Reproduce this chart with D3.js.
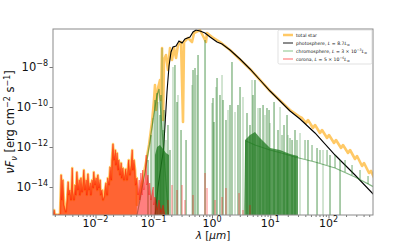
<!DOCTYPE html>
<html>
<head>
<meta charset="utf-8">
<script src="https://cdn.jsdelivr.net/npm/d3@7"></script>
<style>
  body { margin: 0; background: #fff; }
  svg { display: block; font-family: "DejaVu Sans", sans-serif; }
</style>
</head>
<body>
<svg id="chart" width="415" height="242"></svg>
<script>
// All values are [log10(lambda / um), log10(nuF_nu / erg cm^-2 s^-1)]

// corona (dense X-ray / EUV forest, the part below 0.05 um is also the total star)
var coronaPts = [
  [-2.73,-15.35],[-2.71,-15.15],[-2.70,-15.35],[-2.66,-15.40],[-2.61,-15.35],[-2.59,-13.40],[-2.58,-14.65],
  [-2.56,-13.65],[-2.54,-14.90],[-2.51,-15.25],[-2.49,-14.65],[-2.47,-13.75],[-2.46,-14.40],[-2.44,-14.15],
  [-2.42,-14.65],[-2.40,-13.05],[-2.39,-14.15],[-2.37,-14.65],[-2.35,-13.90],[-2.34,-14.40],[-2.32,-13.25],
  [-2.30,-14.15],[-2.28,-13.65],[-2.27,-14.40],[-2.25,-13.55],[-2.23,-14.25],[-2.22,-13.90],[-2.20,-13.15],
  [-2.18,-14.15],[-2.16,-13.65],[-2.15,-14.40],[-2.13,-13.35],[-2.11,-14.15],[-2.09,-13.80],[-2.08,-14.40],
  [-2.06,-13.65],[-2.04,-14.05],[-2.03,-13.25],[-2.01,-13.90],[-1.99,-13.55],[-1.97,-14.15],[-1.96,-13.40],
  [-1.94,-14.05],[-1.92,-13.65],[-1.91,-14.40],[-1.89,-14.15],[-1.87,-14.65],[-1.85,-14.45],[-1.84,-14.15],
  [-1.82,-13.80],[-1.80,-14.40],[-1.79,-13.55],[-1.77,-13.90],[-1.75,-13.00],[-1.73,-13.65],[-1.72,-12.65],
  [-1.70,-11.85],[-1.68,-12.65],[-1.66,-12.15],[-1.65,-12.90],[-1.63,-12.30],[-1.61,-13.15],[-1.60,-12.65],
  [-1.58,-13.40],[-1.56,-12.80],[-1.55,-13.55],[-1.53,-13.05],[-1.51,-13.65],[-1.49,-13.25],[-1.48,-13.10],
  [-1.46,-13.65],[-1.44,-12.90],[-1.43,-12.65],[-1.41,-13.40],[-1.39,-12.90],[-1.37,-12.15],[-1.36,-13.15],
  [-1.34,-12.65],[-1.32,-13.15],[-1.31,-13.90],[-1.29,-13.55],[-1.27,-14.40],[-1.25,-13.65],[-1.24,-14.65],
  [-1.22,-13.30],[-1.20,-14.40],[-1.19,-13.15],[-1.17,-14.15],[-1.15,-13.55],[-1.13,-12.40],[-1.12,-13.90],
  [-1.10,-13.40],[-1.08,-14.40],[-1.07,-13.80],[-1.05,-14.65],[-1.01,-14.00],[-1.00,-14.90],[-0.98,-14.50],
  [-0.94,-15.15],[-0.91,-14.65],[-0.88,-15.25],[-0.84,-14.90],[-0.81,-15.40]
];
// isolated coronal lines further to the red
var coronaLines = [
  [-0.756,-14.65],[-0.687,-13.90],[-0.601,-14.15],[-0.515,-13.90],[-0.464,-14.65],[-0.326,-14.40],
  [-0.120,-13.30],[-0.086,-14.05],[0.052,-14.65],[0.172,-14.50],[0.240,-14.05],[0.464,-14.30],
  [0.532,-15.15],[0.652,-14.90]
];

// photosphere, L = 8.7 Lsun
var photoPts = [
  [-0.979,-15.50],[-0.927,-14.00],[-0.867,-12.80],[-0.833,-12.15],[-0.807,-10.90],[-0.773,-9.25],
  [-0.738,-7.95],[-0.704,-7.25],[-0.670,-7.00],[-0.618,-6.95],[-0.567,-6.70],[-0.515,-6.80],
  [-0.464,-6.60],[-0.378,-6.50],[-0.326,-6.25],[-0.275,-6.15],[-0.206,-6.20],[-0.120,-6.30],
  [-0.034,-6.50],[0.086,-6.75],[0.172,-6.85],[0.309,-7.15],[0.481,-7.60],[0.652,-8.10],
  [0.824,-8.65],[0.996,-9.20],[1.168,-9.70],[1.339,-10.20],[1.511,-10.60],[1.768,-11.30],
  [2.112,-12.40],[2.455,-13.40],[2.782,-14.40]
];

// total star, from the UV rise onwards (below that it follows the corona)
var totalPts = [
  [-1.288,-14.90],[-1.236,-14.25],[-1.185,-13.55],[-1.133,-12.75],[-1.082,-11.90],[-1.030,-10.75],
  [-0.996,-9.65],[-0.979,-8.90],[-0.961,-10.15],[-0.927,-9.05],[-0.893,-8.65],[-0.876,-9.65],
  [-0.858,-7.05],[-0.841,-10.65],[-0.824,-7.65],[-0.790,-7.40],[-0.756,-8.15],[-0.721,-7.05],
  [-0.687,-7.65],[-0.652,-7.05],[-0.618,-7.55],[-0.584,-6.90],[-0.532,-6.75],[-0.498,-10.75],
  [-0.481,-6.75],[-0.412,-6.55],[-0.343,-6.75],[-0.309,-6.30],[-0.206,-6.15],[-0.103,-6.75],
  [-0.086,-6.30],[0.000,-6.50],[0.137,-6.75],[0.309,-7.15],[0.652,-8.10],[0.996,-9.20],
  [1.339,-10.15],[1.511,-10.50],[1.545,-10.55],[1.614,-10.80],[1.648,-10.65],[1.734,-11.05],
  [1.769,-10.90],[1.854,-11.30],[1.889,-11.15],[1.975,-11.55],[2.009,-11.40],[2.095,-11.80],
  [2.129,-11.65],[2.215,-12.05],[2.249,-11.90],[2.335,-12.30],[2.370,-12.15],[2.455,-12.60],
  [2.490,-12.45],[2.576,-12.95],[2.610,-12.80],[2.696,-13.30],[2.730,-13.20],[2.799,-13.65]
];

// chromosphere, L = 3e-3 Lsun
var chromoCont = [
  [-1.288,-15.40],[-1.236,-14.65],[-1.150,-13.25],[-1.065,-11.70],[-1.013,-10.65],[-0.944,-9.40],
  [-0.910,-9.10],[-0.721,-16.50],[0.550,-16.50],[0.580,-11.70],[0.738,-11.90],[0.996,-12.15],
  [1.253,-12.35],[1.425,-12.50],[1.769,-12.75],[2.112,-13.05],[2.455,-13.50],[2.782,-14.00]
];
var chromoBandUV = [
  [-0.979,-12.40],[-0.944,-12.00],[-0.893,-11.90],[-0.841,-12.10],[-0.790,-12.30],[-0.738,-12.40]
];
var chromoBandIR = [
  [0.567,-11.65],[0.652,-11.40],[0.738,-11.25],[0.824,-11.55],[0.910,-11.80],[0.996,-12.05],
  [1.168,-12.15],[1.339,-12.35],[1.476,-12.45]
];
var chromoLines = [
  [-1.099,-12.65],[-1.047,-11.40],[-1.013,-10.55],[-0.979,-9.65],[-0.944,-9.30],[-0.927,-9.75],
  [-0.893,-10.40],[-0.876,-9.40],[-0.858,-7.05],[-0.841,-11.15],[-0.824,-10.15],[-0.790,-11.65],
  [-0.756,-10.90],[-0.721,-12.15],[-0.670,-8.00],[-0.636,-7.90],[-0.601,-9.75],[-0.584,-9.40],
  [-0.532,-11.15],[-0.446,-11.65],[-0.343,-8.90],[-0.326,-8.15],[-0.292,-8.05],[-0.258,-8.40],
  [-0.240,-7.40],[-0.120,-6.65],[0.000,-9.80],[0.017,-9.55],[0.034,-10.75],[0.069,-9.00],
  [0.086,-8.55],[0.137,-9.40],[0.172,-8.40],[0.189,-9.65],[0.240,-10.65],[0.275,-10.15],
  [0.309,-9.90],[0.343,-7.75],[0.395,-10.25],[0.446,-9.90],[0.481,-9.00],[0.532,-9.50],
  [0.601,-10.30],[0.652,-10.90],[0.687,-8.65],[0.704,-9.40],[0.738,-8.65],[0.790,-10.05],
  [0.824,-10.05],[0.876,-9.90],[0.910,-10.40],[0.944,-10.05],[0.979,-10.15],[0.996,-10.80],
  [1.065,-9.75],[1.133,-11.15],[1.168,-10.00],[1.236,-10.90],[1.288,-10.40],[1.305,-11.40],
  [1.374,-11.65],[1.425,-11.15],[1.511,-11.30],[1.648,-11.65],[1.803,-12.05],[1.906,-12.15],
  [2.026,-12.40],[2.198,-12.65]
];
// far-IR emission lines sitting on the continuum: [log lambda, base, peak]
var chromoEmission = [
  [1.202,-12.25,-11.40],[1.339,-12.40,-11.55],[1.459,-12.50,-11.65],[1.597,-12.60,-11.65],
  [1.717,-12.70,-11.90],[1.854,-12.80,-12.15],[1.975,-12.90,-12.15],[2.112,-13.05,-12.40],
  [2.284,-13.25,-12.65],[2.404,-13.40,-12.90],[2.541,-13.60,-13.15],[2.679,-13.85,-13.45]
];

var xTickExps = [-2, -1, 0, 1, 2];
var yTickExps = [-8, -10, -12, -14];
var legendLabels = ["total star", "photosphere", "chromosphere", "corona"];

var svg = d3.select("#chart");
var plot = { left: 53, right: 373, top: 29, bottom: 215 };

var x = d3.scaleLog().domain([Math.pow(10, -2.73), Math.pow(10, 2.764)]).range([plot.left, plot.right]);
var y = d3.scaleLog().domain([Math.pow(10, -15.4), Math.pow(10, -6.1)]).range([plot.bottom, plot.top]);
function px(v) { return x(Math.pow(10, v)); }
function py(v) { return y(Math.pow(10, v)); }

var line = d3.line().x(function (d) { return px(d[0]); }).y(function (d) { return py(d[1]); });
var area = d3.area().x(function (d) { return px(d[0]); }).y0(plot.bottom + 2).y1(function (d) { return py(d[1]); });

svg.append("clipPath").attr("id", "clip")
  .append("rect").attr("x", plot.left).attr("y", plot.top)
  .attr("width", plot.right - plot.left).attr("height", plot.bottom - plot.top);

var g = svg.append("g").attr("clip-path", "url(#clip)");

// Total star
var totalLow = coronaPts.filter(function (d) { return d[0] < totalPts[0][0]; });
g.append("path").attr("d", area(totalLow)).attr("fill", "#ffa500").attr("fill-opacity", 0.6);
g.append("path").attr("d", line(totalLow.concat(totalPts)))
  .attr("fill", "none").attr("stroke", "#ffa500").attr("stroke-opacity", 0.6)
  .attr("stroke-width", 2.6).attr("stroke-linejoin", "round");

// Photosphere
g.append("path").attr("d", line(photoPts))
  .attr("fill", "none").attr("stroke", "#000").attr("stroke-width", 1.1);

// Chromosphere
var green = "#1f7a1f";
var chromo = g.append("g").attr("class", "chromo");
[chromoBandUV, chromoBandIR].forEach(function (band) {
  chromo.append("path").attr("d", area(band)).attr("fill", green).attr("fill-opacity", 0.75);
});
chromo.append("path").attr("d", line(chromoCont))
  .attr("fill", "none").attr("stroke", green).attr("stroke-opacity", 0.55).attr("stroke-width", 1.2);
chromo.selectAll("line.spike").data(chromoLines).enter().append("line")
  .attr("class", "spike")
  .attr("x1", function (d) { return px(d[0]); }).attr("x2", function (d) { return px(d[0]); })
  .attr("y1", plot.bottom + 2).attr("y2", function (d) { return py(d[1]); })
  .attr("stroke", green).attr("stroke-opacity", function (d, i) { return i % 3 === 2 ? 0.4 : 0.75; })
  .attr("stroke-width", 1);
chromo.selectAll("line.emis").data(chromoEmission).enter().append("line")
  .attr("class", "emis")
  .attr("x1", function (d) { return px(d[0]); }).attr("x2", function (d) { return px(d[0]); })
  .attr("y1", function (d) { return py(d[1]); }).attr("y2", function (d) { return py(d[2]); })
  .attr("stroke", green).attr("stroke-opacity", 0.45).attr("stroke-width", 1.4);

// Corona
g.append("path").attr("d", area(coronaPts))
  .attr("fill", "#ff0000").attr("fill-opacity", 0.5)
  .attr("stroke", "#ff0000").attr("stroke-opacity", 0.5).attr("stroke-width", 0.8);
g.selectAll("line.cor").data(coronaLines).enter().append("line")
  .attr("class", "cor")
  .attr("x1", function (d) { return px(d[0]); }).attr("x2", function (d) { return px(d[0]); })
  .attr("y1", plot.bottom + 2).attr("y2", function (d) { return py(d[1]); })
  .attr("stroke", "#ff0000").attr("stroke-opacity", 0.5).attr("stroke-width", 1);

// Axes
var minorX = [];
for (var e = -3; e <= 2; e++) for (var m = 2; m <= 9; m++) {
  var v = m * Math.pow(10, e);
  if (v > x.domain()[0] && v < x.domain()[1]) minorX.push(v);
}
var xAxis = svg.append("g").attr("transform", "translate(0," + plot.bottom + ")");
xAxis.call(d3.axisBottom(x).tickValues(xTickExps.map(function (k) { return Math.pow(10, k); }))
  .tickFormat("").tickSize(3.5).tickSizeOuter(0));
xAxis.append("g").call(d3.axisBottom(x).tickValues(minorX).tickFormat("").tickSize(2).tickSizeOuter(0));
var yAxis = svg.append("g").attr("transform", "translate(" + plot.left + ",0)");
yAxis.call(d3.axisLeft(y).tickValues(yTickExps.map(function (k) { return Math.pow(10, k); }))
  .tickFormat("").tickSize(3.5).tickSizeOuter(0));
svg.selectAll(".domain").remove();
svg.selectAll(".tick line").attr("stroke", "#555").attr("stroke-width", 0.8);

svg.append("rect").attr("x", plot.left).attr("y", plot.top)
  .attr("width", plot.right - plot.left).attr("height", plot.bottom - plot.top)
  .attr("fill", "none").attr("stroke", "#8a8a8a").attr("stroke-width", 1);

function powLabel(sel, exp) {
  sel.append("tspan").text("10");
  sel.append("tspan").attr("dy", -5).attr("font-size", 8)
    .text(exp < 0 ? "\u2212" + Math.abs(exp) : String(exp));
}
xTickExps.forEach(function (k) {
  var t = svg.append("text").attr("x", x(Math.pow(10, k))).attr("y", 226.5)
    .attr("text-anchor", "middle").attr("font-size", 11).attr("fill", "#111");
  powLabel(t, k);
});
yTickExps.forEach(function (k) {
  var t = svg.append("text").attr("x", 48).attr("y", y(Math.pow(10, k)) + 4)
    .attr("text-anchor", "end").attr("font-size", 11.5).attr("fill", "#111");
  powLabel(t, k);
});

// Axis titles
var yl = svg.append("text").attr("transform", "translate(14," + ((plot.top + plot.bottom) / 2) + ") rotate(-90)")
  .attr("text-anchor", "middle").attr("font-size", 11.5).attr("fill", "#111");
yl.append("tspan").attr("font-style", "italic").text("\u03bdF");
yl.append("tspan").attr("font-style", "italic").attr("font-size", 8).attr("dy", 2.5).text("\u03bd");
yl.append("tspan").attr("dy", -2.5).text(" [erg cm");
yl.append("tspan").attr("font-size", 8).attr("dy", -4.5).text("\u22122");
yl.append("tspan").attr("dy", 4.5).text(" s");
yl.append("tspan").attr("font-size", 8).attr("dy", -4.5).text("\u22121");
yl.append("tspan").attr("dy", 4.5).text("]");

var xl = svg.append("text").attr("x", (plot.left + plot.right) / 2).attr("y", 239.2)
  .attr("text-anchor", "middle").attr("font-size", 10.5).attr("fill", "#111");
xl.append("tspan").attr("font-style", "italic").text("\u03bb");
xl.append("tspan").text(" [");
xl.append("tspan").attr("font-style", "italic").text("\u03bcm");
xl.append("tspan").text("]");

// Legend
var lg = svg.append("g").attr("transform", "translate(278,30)");
lg.append("rect").attr("width", 94).attr("height", 34).attr("rx", 1.5)
  .attr("fill", "#fff").attr("fill-opacity", 0.8).attr("stroke", "#cfcfcf").attr("stroke-width", 0.6);
var legendStyles = [
  { color: "#ffa500", op: 0.6, w: 2.5 },
  { color: "#000", op: 1, w: 0.9 },
  { color: "#008000", op: 0.4, w: 1.2 },
  { color: "#ff0000", op: 0.5, w: 1.2 }
];
var legendMath = [
  null,
  [["L", "i"], [" = 8.7", ""], ["L", "i"], ["\u2299", "sub"]],
  [["L", "i"], [" = 3 \u00d7 10", ""], ["\u22123", "sup"], ["L", "i"], ["\u2299", "sub"]],
  [["L", "i"], [" = 5 \u00d7 10", ""], ["\u22126", "sup"], ["L", "i"], ["\u2299", "sub"]]
];
legendLabels.forEach(function (lab, i) {
  var row = lg.append("g").attr("transform", "translate(0," + (5 + i * 8) + ")");
  row.append("line").attr("x1", 5).attr("x2", 15).attr("y1", 0).attr("y2", 0)
    .attr("stroke", legendStyles[i].color).attr("stroke-opacity", legendStyles[i].op)
    .attr("stroke-width", legendStyles[i].w);
  var t = row.append("text").attr("x", 18).attr("y", 1.6).attr("font-size", 4.6).attr("fill", "#111");
  t.append("tspan").text(lab + (legendMath[i] ? ", " : ""));
  if (legendMath[i]) {
    var shift = 0;
    legendMath[i].forEach(function (p) {
      var s = t.append("tspan").text(p[0]);
      var want = p[1] === "sup" ? -1.8 : p[1] === "sub" ? 1 : 0;
      s.attr("dy", want - shift); shift = want;
      if (p[1] === "i") s.attr("font-style", "italic");
      if (p[1] === "sup" || p[1] === "sub") s.attr("font-size", 3.3);
    });
  }
});
</script>
</body>
</html>
